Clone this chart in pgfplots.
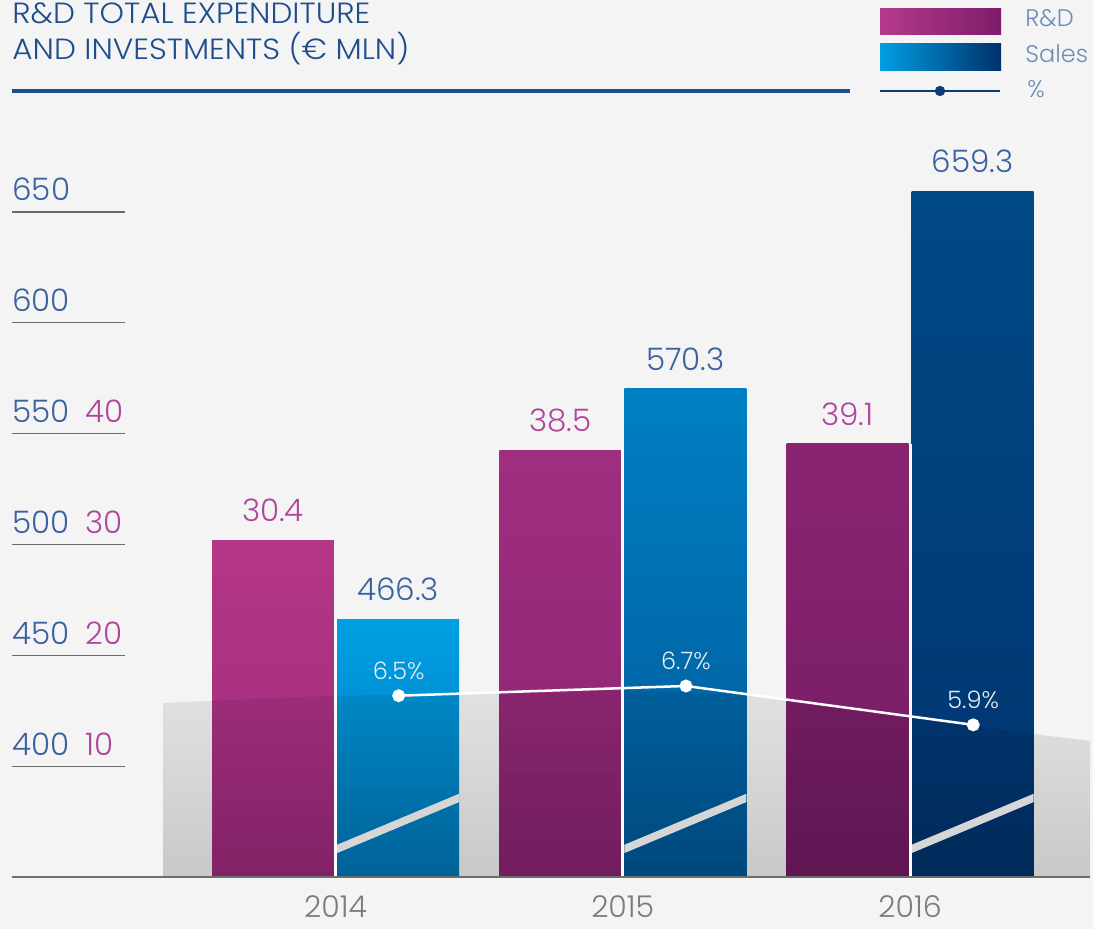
\documentclass[border=0pt]{standalone}
\usepackage{pgfplots}
\pgfplotsset{compat=1.18}
\usepackage{fontspec}
\setmainfont{Poppins}[UprightFont=* Light]
\newfontfamily\titlefont{Poppins}[UprightFont=* Light, FakeStretch=1.065]
\definecolor{bg}{HTML}{F4F4F4}
\definecolor{titleblue}{HTML}{1F4E8C}
\definecolor{salesblue}{HTML}{3A62A0}
\definecolor{rdmag}{HTML}{B0469C}
\definecolor{tickgray}{HTML}{6A6A6A}
\definecolor{basegray}{HTML}{6E6E6E}
\definecolor{yeargray}{HTML}{7C7C7C}
\definecolor{pctcol}{HTML}{E4ECF4}
\definecolor{legtext}{HTML}{6D8CBD}
\definecolor{legline}{HTML}{0E3C76}
\definecolor{rdL}{HTML}{B43A8C}
\definecolor{rdR}{HTML}{7E1C6A}
\definecolor{saL}{HTML}{009FE3}
\definecolor{saR}{HTML}{00306A}
\definecolor{r14t}{HTML}{B43688}\definecolor{r14b}{HTML}{9E2A7C}
\definecolor{r15t}{HTML}{A02E80}\definecolor{r15b}{HTML}{8A2471}
\definecolor{r16t}{HTML}{8A2472}\definecolor{r16b}{HTML}{731B63}
\definecolor{s14t}{HTML}{009FE3}\definecolor{s14b}{HTML}{0078B8}
\definecolor{s15t}{HTML}{0080C4}\definecolor{s15b}{HTML}{005898}
\definecolor{s16t}{HTML}{004A86}\definecolor{s16b}{HTML}{00346F}
\definecolor{ovtop}{HTML}{ECECEC}
\definecolor{ovbot}{HTML}{D2D2D2}
\definecolor{stripe}{HTML}{D6D6D6}
\pgfplotsset{
  common/.style={at={(6pt,26pt)}, anchor=south west, scale only axis,
    width=539pt, height=378.5pt, xmin=2012.8738, xmax=2016.6266,
    axis line style={draw=none},
    /pgf/number format/fixed, /pgf/number format/fixed zerofill,
    /pgf/number format/precision=1, /pgf/number format/1000 sep={},
    /pgf/number format/assume math mode=true},
  vlab/.style 2 args={nodes near coords,
    nodes near coords style={anchor=south, inner sep=0pt, yshift=9pt, xshift=#2,
      text=#1, font=\fontsize{15.5}{15.5}\selectfont}},
}
\begin{document}
\begin{tikzpicture}
\useasboundingbox (0,0) rectangle (546.5pt,464.5pt);
\fill[bg] (0,0) rectangle (546.5pt,464.5pt);
% Sales axis
\begin{axis}[common, ymin=350, ymax=691.5,
  xtick=\empty, ytick={400,450,500,550,600,650},
  yticklabels={400,450,500,550,600,650},
  ytick pos=left, tick align=inside, major tick length=56.5pt,
  tick style={draw=tickgray, line width=0.65pt},
  yticklabel style={anchor=base west, inner sep=0pt, yshift=5.5pt,
    text=salesblue, font=\fontsize{15.5}{15.5}\selectfont}]
\addplot[ybar, bar width=0.4247, bar shift=0.2176, draw=none,
  top color=s14t, bottom color=s14b, vlab={salesblue}{31.25pt}] coordinates {(2014,466.3)};
\addplot[ybar, bar width=0.4247, bar shift=0.2176, draw=none,
  top color=s15t, bottom color=s15b, vlab={salesblue}{31.25pt}] coordinates {(2015,570.3)};
\addplot[ybar, bar width=0.4247, bar shift=0.2176, draw=none,
  top color=s16t, bottom color=s16b, vlab={salesblue}{31.25pt}] coordinates {(2016,659.3)};
\end{axis}
% R&D axis
\begin{axis}[common, ymin=0, ymax=68.30,
  xtick=\empty, ytick={10,20,30,40}, yticklabels={10,20,30,40},
  ytick pos=left, major tick length=0pt,
  yticklabel style={anchor=base west, inner sep=0pt, yshift=5.5pt, xshift=36.5pt,
    text=rdmag, font=\fontsize{15.5}{15.5}\selectfont}]
\addplot[ybar, bar width=0.4247, bar shift=-0.2176, draw=none,
  top color=r14t, bottom color=r14b, vlab={rdmag}{-31.25pt}] coordinates {(2014,30.4)};
\addplot[ybar, bar width=0.4247, bar shift=-0.2176, draw=none,
  top color=r15t, bottom color=r15b, vlab={rdmag}{-31.25pt}] coordinates {(2015,38.5)};
\addplot[ybar, bar width=0.4247, bar shift=-0.2176, draw=none,
  top color=r16t, bottom color=r16b, vlab={rdmag}{-31.25pt}] coordinates {(2016,39.1)};
% decorative grey band (multiply)
\addplot[draw=none, top color=ovtop, bottom color=ovbot, blend mode=multiply]
  coordinates {(2013.3995,15.70) (2013.8764,16.24) (2014.4334,16.60) (2014.9904,16.83)
    (2015.4291,16.42) (2015.9652,14.53) (2016.4282,12.90) (2016.6266,12.27)} \closedcycle;
% decorative stripes
\addplot[fill=stripe, draw=none] coordinates {(2014.0053,2.155) (2014.4300,6.755) (2014.4300,7.505) (2014.0053,2.905)} -- cycle;
\addplot[fill=stripe, draw=none] coordinates {(2015.0053,2.155) (2015.4300,6.755) (2015.4300,7.505) (2015.0053,2.905)} -- cycle;
\addplot[fill=stripe, draw=none] coordinates {(2016.0053,2.155) (2016.4300,6.755) (2016.4300,7.505) (2016.0053,2.905)} -- cycle;
% white gaps
\addplot[white, line width=1.5pt] coordinates {(2014,0) (2014,23.26)};
\addplot[white, line width=1.5pt] coordinates {(2015,0) (2015,38.5)};
\addplot[white, line width=1.5pt] coordinates {(2016,0) (2016,39.1)};
\end{axis}
% percent axis
\begin{axis}[common, ymin=2.770, ymax=18.346,
  axis x line*=bottom, axis y line=none,
  x axis line style={draw=basegray, line width=1pt},
  xtick={2014,2015,2016}, xticklabels={2014,2015,2016}, ytick=\empty,
  major tick length=0pt,
  xticklabel style={anchor=base, inner sep=0pt, yshift=-20.5pt,
    text=yeargray, font=\fontsize{15}{15}\selectfont}]
\addplot[white, line width=1.25pt, mark=*, mark size=2.6pt,
  mark options={fill=white, draw=white},
  nodes near coords={\pgfmathprintnumber{\pgfplotspointmeta}\%},
  nodes near coords style={anchor=south, inner sep=0pt, yshift=7.5pt,
    text=pctcol, font=\fontsize{12}{12}\selectfont}]
  coordinates {(2014.22,6.5) (2015.22,6.7) (2016.22,5.9)};
\end{axis}
% title
\node[anchor=base west, inner sep=0pt, text=titleblue, font=\titlefont\fontsize{14.6}{14.6}\selectfont]
  at (6pt,452.85pt) {R\&D TOTAL EXPENDITURE};
\node[anchor=base west, inner sep=0pt, text=titleblue, font=\titlefont\fontsize{14.6}{14.6}\selectfont]
  at (6pt,434.5pt) {AND INVESTMENTS (€ MLN)};
\draw[titleblue, line width=1.6pt] (6pt,419pt) -- (425pt,419pt);
% legend
\shade[left color=rdL, right color=rdR] (440pt,447pt) rectangle (500.5pt,460pt);
\shade[left color=saL, right color=saR] (440pt,429pt) rectangle (500.5pt,442.5pt);
\draw[legline, line width=1pt] (440pt,419pt) -- (500pt,419pt);
\fill[legline] (470pt,419pt) circle (2.6pt);
\node[anchor=base west, inner sep=0pt, text=legtext, font=\fontsize{12}{12}\selectfont]
  at (512.5pt,451pt) {R\&D};
\node[anchor=base west, inner sep=0pt, text=legtext, font=\fontsize{12}{12}\selectfont]
  at (512.5pt,433pt) {Sales};
\node[anchor=base west, inner sep=0pt, text=legtext, font=\fontsize{12}{12}\selectfont]
  at (513.5pt,415.6pt) {\%};
\end{tikzpicture}
\end{document}
